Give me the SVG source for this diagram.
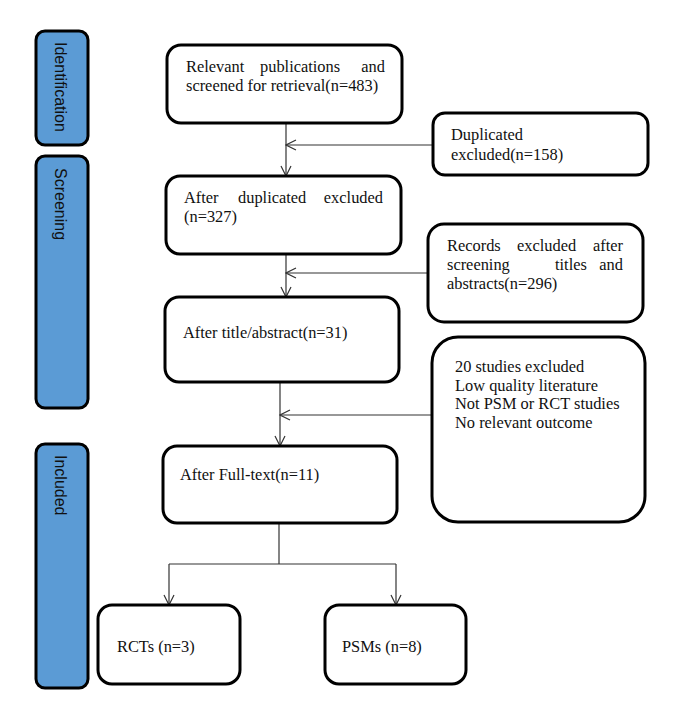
<svg xmlns="http://www.w3.org/2000/svg" width="676" height="702" viewBox="0 0 676 702">
<style>
.side{fill:#5b9bd5;stroke:#000;stroke-width:3}
.box{fill:#fff;stroke:#000;stroke-width:3}
.st{font-family:"Liberation Sans",Arial,sans-serif;font-size:16px;fill:#111}
.t{font-family:"Liberation Serif","Times New Roman",serif;font-size:16.4px;fill:#111}
.c{fill:none;stroke:#333;stroke-width:1.2}
</style>
<defs>
<marker id="ah" viewBox="0 0 12 12" refX="11" refY="6" markerWidth="12" markerHeight="12" markerUnits="userSpaceOnUse" orient="auto">
<path d="M1,1 L11,6 L1,11" fill="none" stroke="#333" stroke-width="1.2"/>
</marker>
</defs>
<rect width="676" height="702" fill="#fff"/>
<g id="side-identification">
<rect class="side" x="36" y="31" width="52" height="114" rx="9"/>
<text class="st" transform="translate(55,42) rotate(90)">Identification</text>
</g>
<g id="side-screening">
<rect class="side" x="36" y="156" width="52" height="252" rx="9"/>
<text class="st" transform="translate(55,168) rotate(90)">Screening</text>
</g>
<g id="side-included">
<rect class="side" x="36" y="444" width="52" height="244" rx="9"/>
<text class="st" transform="translate(55,455) rotate(90)">Included</text>
</g>
<g id="connectors">
<path class="c" d="M286,123 V176" marker-end="url(#ah)"/>
<path class="c" d="M434,145 H286" marker-end="url(#ah)"/>
<path class="c" d="M286,254 V297" marker-end="url(#ah)"/>
<path class="c" d="M428,273 H286" marker-end="url(#ah)"/>
<path class="c" d="M280,383 V446" marker-end="url(#ah)"/>
<path class="c" d="M432,415 H280" marker-end="url(#ah)"/>
<path class="c" d="M279,524 V564"/>
<path class="c" d="M169,564 H396"/>
<path class="c" d="M169,564 V605" marker-end="url(#ah)"/>
<path class="c" d="M396,564 V605" marker-end="url(#ah)"/>
</g>
<g id="n1">
<rect class="box" x="167" y="45" width="235" height="78" rx="14"/>
<text class="t" x="186" y="72">Relevant</text>
<text class="t" x="260" y="72">publications</text>
<text class="t" x="385" y="72" text-anchor="end">and</text>
<text class="t" x="186" y="91">screened for retrieval(n=483)</text>
</g>
<g id="n-dup">
<rect class="box" x="433" y="113" width="215" height="62" rx="12"/>
<text class="t" x="451" y="140">Duplicated</text>
<text class="t" x="451" y="160">excluded(n=158)</text>
</g>
<g id="n2">
<rect class="box" x="166" y="176" width="235" height="78" rx="14"/>
<text class="t" x="184" y="203">After</text>
<text class="t" x="238" y="203">duplicated</text>
<text class="t" x="383" y="203" text-anchor="end">excluded</text>
<text class="t" x="184" y="222">(n=327)</text>
</g>
<g id="n-rec">
<rect class="box" x="428" y="224" width="215" height="98" rx="16"/>
<text class="t" x="447" y="251">Records</text>
<text class="t" x="517" y="251">excluded</text>
<text class="t" x="623" y="251" text-anchor="end">after</text>
<text class="t" x="447" y="270">screening</text>
<text class="t" x="555" y="270">titles</text>
<text class="t" x="623" y="270" text-anchor="end">and</text>
<text class="t" x="447" y="289">abstracts(n=296)</text>
</g>
<g id="n3">
<rect class="box" x="165" y="297" width="234" height="85" rx="14"/>
<text class="t" x="183" y="338">After title/abstract(n=31)</text>
</g>
<g id="n-excl">
<rect class="box" x="432" y="337" width="213" height="185" rx="26"/>
<text class="t" x="455" y="372">20 studies excluded</text>
<text class="t" x="455" y="391">Low quality literature</text>
<text class="t" x="455" y="409">Not PSM or RCT studies</text>
<text class="t" x="455" y="428">No relevant outcome</text>
</g>
<g id="n4">
<rect class="box" x="163" y="446" width="234" height="77" rx="14"/>
<text class="t" x="180" y="480">After Full-text(n=11)</text>
</g>
<g id="n-rct">
<rect class="box" x="98" y="605" width="142" height="79" rx="14"/>
<text class="t" x="117" y="652">RCTs (n=3)</text>
</g>
<g id="n-psm">
<rect class="box" x="325" y="605" width="141" height="79" rx="14"/>
<text class="t" x="342" y="652">PSMs (n=8)</text>
</g>
</svg>
